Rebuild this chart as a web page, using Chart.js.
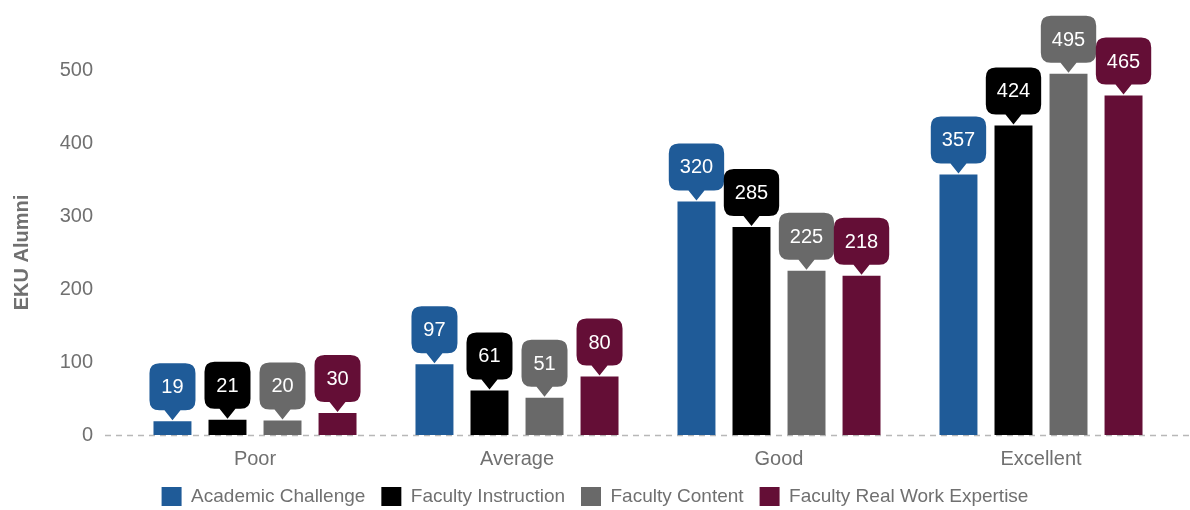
<!DOCTYPE html>
<html>
<head>
<meta charset="utf-8">
<script src="https://cdn.jsdelivr.net/npm/chart.js"></script>
<style>
  html, body { margin: 0; padding: 0; background: #fff; }
  #wrap { width: 1190px; height: 510px; }
</style>
</head>
<body>
<div id="wrap"><canvas id="myChart" width="1190" height="510"></canvas></div>
<script>
// data
const categories = ['Poor', 'Average', 'Good', 'Excellent'];
const seriesNames = ['Academic Challenge', 'Faculty Instruction', 'Faculty Content', 'Faculty Real Work Expertise'];
const academicChallenge = [19, 97, 320, 357];
const facultyInstruction = [21, 61, 285, 424];
const facultyContent = [20, 51, 225, 495];
const facultyRealWork = [30, 80, 218, 465];
const yTicks = [0, 100, 200, 300, 400, 500];

const colors = ['#1f5b98', '#000000', '#696969', '#640e36'];
const textGrey = '#707070';
const fontFam = '"Liberation Sans", Arial, sans-serif';

const seriesValues = [academicChallenge, facultyInstruction, facultyContent, facultyRealWork];

// dashed zero line, a bit wider than the plot area
const baseline = {
  id: 'baseline',
  beforeDatasetsDraw(chart) {
    const c = chart.ctx;
    const y = Math.round(chart.scales.y.getPixelForValue(0));
    c.save();
    c.strokeStyle = '#b8b8b8';
    c.lineWidth = 1.5;
    c.setLineDash([6, 5]);
    c.beginPath();
    c.moveTo(105, y + 0.5);
    c.lineTo(chart.width, y + 0.5);
    c.stroke();
    c.restore();
  }
};

// callout labels above each bar
const callouts = {
  id: 'callouts',
  afterDatasetsDraw(chart) {
    const c = chart.ctx;
    c.save();
    c.font = '20px ' + fontFam;
    chart.data.datasets.forEach((ds, i) => {
      const meta = chart.getDatasetMeta(i);
      meta.data.forEach((bar, j) => {
        const txt = String(ds.data[j]);
        const w = Math.max(46, c.measureText(txt).width + 22);
        const h = 47;
        const tip = bar.y - 1;
        const bottom = tip - 10;
        const top = bottom - h;
        const left = bar.x - w / 2;
        const r = 10;
        c.fillStyle = ds.backgroundColor;
        c.beginPath();
        c.moveTo(left + r, top);
        c.lineTo(left + w - r, top);
        c.quadraticCurveTo(left + w, top, left + w, top + r);
        c.lineTo(left + w, bottom - r);
        c.quadraticCurveTo(left + w, bottom, left + w - r, bottom);
        c.lineTo(bar.x + 8, bottom);
        c.lineTo(bar.x, tip);
        c.lineTo(bar.x - 8, bottom);
        c.lineTo(left + r, bottom);
        c.quadraticCurveTo(left, bottom, left, bottom - r);
        c.lineTo(left, top + r);
        c.quadraticCurveTo(left, top, left + r, top);
        c.closePath();
        c.fill();
        c.fillStyle = '#ffffff';
        c.textAlign = 'center';
        c.textBaseline = 'middle';
        c.fillText(txt, bar.x, top + h / 2 + 1);
      });
    });
    c.restore();
  }
};

new Chart(document.getElementById('myChart').getContext('2d'), {
  type: 'bar',
  data: {
    labels: categories,
    datasets: seriesNames.map((name, i) => ({
      label: name,
      data: seriesValues[i],
      backgroundColor: colors[i],
      borderWidth: 0,
      categoryPercentage: 0.84,
      barPercentage: 0.69
    }))
  },
  options: {
    responsive: false,
    animation: false,
    devicePixelRatio: 1,
    layout: { padding: { top: 70, right: 0, left: 0, bottom: 0 } },
    plugins: {
      tooltip: { enabled: false },
      legend: {
        position: 'bottom',
        maxHeight: 39,
        labels: {
          boxWidth: 20,
          boxHeight: 19,
          padding: 16,
          color: textGrey,
          font: { family: fontFam, size: 19 }
        }
      }
    },
    scales: {
      x: {
        grid: { display: false, drawTicks: false },
        border: { display: false },
        ticks: { color: textGrey, padding: 12, font: { family: fontFam, size: 20 } },
        afterFit(scale) { scale.height = 36; }
      },
      y: {
        min: 0,
        max: 500,
        grid: { display: false, drawTicks: false },
        border: { display: false },
        afterBuildTicks(scale) { scale.ticks = yTicks.map(v => ({ value: v })); },
        ticks: { color: textGrey, padding: 31, font: { family: fontFam, size: 20 } },
        title: {
          display: true,
          text: 'EKU Alumni',
          color: textGrey,
          padding: { top: 10, bottom: 0 },
          font: { family: fontFam, size: 20, weight: 'bold' }
        },
        afterFit(scale) { scale.width = 124; }
      },
      // empty right-hand strip so the plot ends where the original does
      yRight: {
        position: 'right',
        grid: { display: false, drawTicks: false },
        border: { display: false },
        ticks: { display: false },
        afterFit(scale) { scale.width = 18; }
      }
    }
  },
  plugins: [baseline, callouts]
});
</script>
</body>
</html>
